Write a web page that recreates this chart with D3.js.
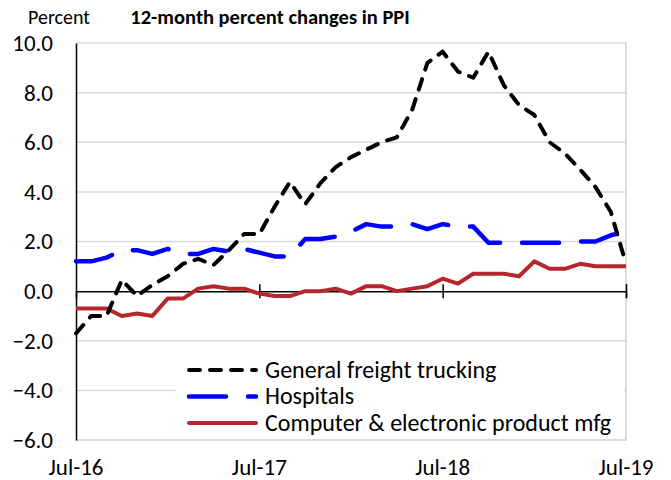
<!DOCTYPE html>
<html>
<head>
<meta charset="utf-8">
<script src="https://cdn.jsdelivr.net/npm/d3@7"></script>
<style>
  body { margin: 0; background: #fff; }
  svg text { font-family: Carlito, Lato, "Open Sans", sans-serif; fill: #000; }
</style>
</head>
<body>
<div id="chart"></div>
<script>
// monthly, Jul-16 .. Jul-19
var xLabels = ['Jul-16', 'Jul-17', 'Jul-18', 'Jul-19'];
var yTicks = [-6, -4, -2, 0, 2, 4, 6, 8, 10];

var trucking = [-1.7, -1.0, -1.0, 0.45, -0.2, 0.25, 0.6, 1.1, 1.3, 1.05, 1.65, 2.3, 2.3,
  3.4, 4.4, 3.5, 4.35, 5.0, 5.4, 5.7, 6.0, 6.2, 7.3, 9.2, 9.65, 8.85, 8.6, 9.65,
  8.3, 7.5, 7.1, 6.0, 5.55, 4.9, 4.2, 3.2, 1.1];
var hospitals = [1.2, 1.2, 1.35, 1.65, 1.65, 1.5, 1.7, 1.5, 1.5, 1.7, 1.6, 1.7, 1.55,
  1.4, 1.4, 2.1, 2.1, 2.2, 2.4, 2.7, 2.6, 2.6, 2.7, 2.5, 2.7, 2.6, 2.6, 1.95,
  1.95, 1.95, 1.95, 1.95, 1.95, 2.0, 2.0, 2.25, 2.4];
var computers = [-0.7, -0.7, -0.7, -1.0, -0.9, -1.0, -0.3, -0.3, 0.1, 0.2, 0.1, 0.1, -0.1,
  -0.2, -0.2, 0.0, 0.0, 0.1, -0.1, 0.2, 0.2, 0.0, 0.1, 0.2, 0.5, 0.3, 0.7, 0.7,
  0.7, 0.6, 1.2, 0.9, 0.9, 1.1, 1.0, 1.0, 1.0];

var seriesList = [
  { name: 'General freight trucking', values: trucking, color: '#000000', dash: '11,10', width: 4 },
  { name: 'Hospitals', values: hospitals, color: '#0000ff', dash: '37,22', width: 4.5 },
  { name: 'Computer & electronic product mfg', values: computers, color: '#b5272d', dash: null, width: 4 }
];

var width = 671, height = 480;
var plot = { left: 76, right: 626, top: 43, bottom: 440 };

var svg = d3.select('#chart').append('svg')
  .attr('width', width)
  .attr('height', height);

var x = d3.scaleLinear().domain([0, 36]).range([plot.left, plot.right]);
var y = d3.scaleLinear().domain([-6, 10]).range([plot.bottom, plot.top]);

// gridlines
svg.append('g').selectAll('line')
  .data(yTicks.filter(function(d) { return d !== 0 && d !== -6; }))
  .enter().append('line')
  .attr('x1', plot.left).attr('x2', plot.right)
  .attr('y1', function(d) { return y(d); })
  .attr('y2', function(d) { return y(d); })
  .attr('stroke', '#d9d9d9')
  .attr('stroke-width', 1.5);

// plot border (right/bottom)
svg.append('path')
  .attr('d', 'M' + plot.left + ',' + plot.bottom + 'H' + plot.right + 'V' + plot.top)
  .attr('fill', 'none')
  .attr('stroke', '#d0d0d0')
  .attr('stroke-width', 1.5);

// y axis
var yAxis = svg.append('g')
  .attr('transform', 'translate(' + plot.left + ',0)')
  .call(d3.axisLeft(y).tickValues(yTicks).tickSize(0).tickPadding(23)
    .tickFormat(function(d) { return d3.format('.1f')(d); }));
yAxis.attr('font-size', 23).attr('font-family', null);
yAxis.select('.domain').attr('stroke', '#000').attr('stroke-width', 1.5);
yAxis.selectAll('text').style('font-size', '23px').attr('fill', '#000');

// x axis on zero line
var xAxis = svg.append('g')
  .attr('transform', 'translate(0,' + y(0) + ')')
  .call(d3.axisBottom(x).tickValues([12, 24, 36]).tickSize(7).tickFormat(''));
xAxis.select('.domain').attr('stroke', '#000').attr('stroke-width', 1.5);
xAxis.selectAll('.tick line').attr('y1', -7).attr('stroke', '#000').attr('stroke-width', 1.5);

// x labels at the bottom
svg.append('g').selectAll('text')
  .data(xLabels)
  .enter().append('text')
  .attr('x', function(d, i) { return x(i * 12); })
  .attr('y', 475)
  .attr('text-anchor', 'middle')
  .style('font-size', '23px')
  .text(function(d) { return d; });

var line = d3.line()
  .x(function(d, i) { return x(i); })
  .y(function(d) { return y(d); });

// draw red first so the dashed lines sit on top
svg.append('g').selectAll('path')
  .data(seriesList.slice().reverse())
  .enter().append('path')
  .attr('d', function(s) { return line(s.values); })
  .attr('fill', 'none')
  .attr('stroke', function(s) { return s.color; })
  .attr('stroke-width', function(s) { return s.width; })
  .attr('stroke-dasharray', function(s) { return s.dash; })
  .attr('stroke-linecap', function(s) { return s.dash ? 'round' : 'butt'; })
  .attr('stroke-linejoin', 'round');

// legend
var legend = svg.append('g');
legend.append('rect')
  .attr('x', 176).attr('y', 347)
  .attr('width', 448).attr('height', 91)
  .attr('fill', '#fff');

var rows = legend.selectAll('g.row')
  .data(seriesList)
  .enter().append('g')
  .attr('class', 'row')
  .attr('transform', function(d, i) { return 'translate(0,' + (370 + i * 26.5) + ')'; });

rows.append('line')
  .attr('x1', 189).attr('x2', 256)
  .attr('y1', 0).attr('y2', 0)
  .attr('stroke', function(s) { return s.color; })
  .attr('stroke-width', function(s) { return s.width; })
  .attr('stroke-dasharray', function(s) { return s.dash; })
  .attr('stroke-linecap', 'round');

rows.append('text')
  .attr('x', 265).attr('y', 7.5)
  .style('font-size', '24px')
  .text(function(s) { return s.name; });

// titles
svg.append('text')
  .attr('x', 270).attr('y', 24)
  .attr('text-anchor', 'middle')
  .style('font-size', '20.5px')
  .style('font-weight', 'bold')
  .text('12-month percent changes in PPI');

svg.append('text')
  .attr('x', 28).attr('y', 24)
  .style('font-size', '20px')
  .text('Percent');
</script>
</body>
</html>
